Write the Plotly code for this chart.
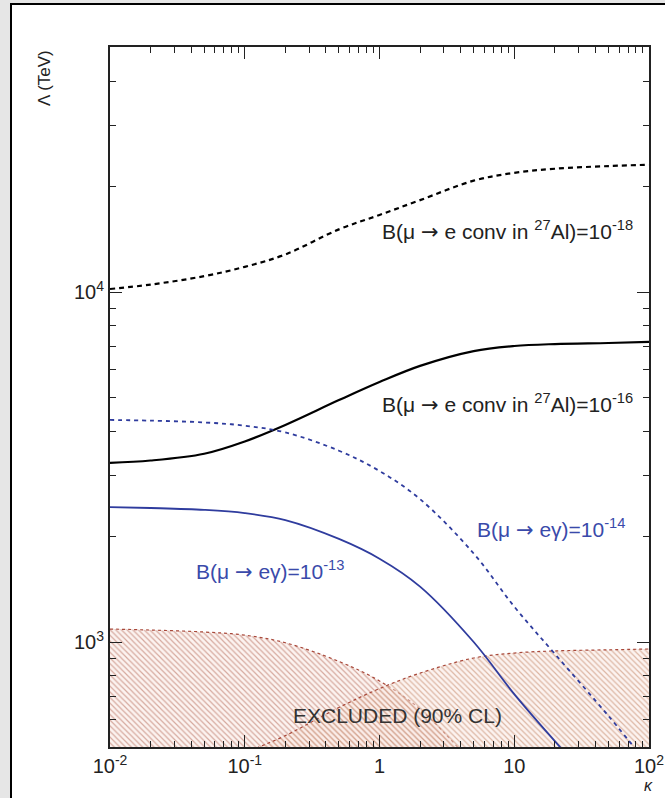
import plotly.graph_objects as go

# ---- data ----
kappa = [0.01, 0.02, 0.05, 0.1, 0.2, 0.5, 1, 2, 5, 10, 20, 50, 100]
conv_al_1e18 = [10200, 10500, 11100, 11800, 12800, 15100, 16600, 18300, 20800, 21900, 22500, 22900, 23100]
conv_al_1e16 = [3250, 3300, 3450, 3740, 4170, 4910, 5530, 6150, 6780, 7010, 7100, 7150, 7200]
meg_1e14 = [4310, 4290, 4240, 4150, 3970, 3520, 3080, 2560, 1790, 1262, 925, 615, 443]
meg_1e13 = [2430, 2415, 2385, 2335, 2230, 1970, 1730, 1440, 1000, 710, 521, 351, 260]

excl_meg_kappa = [0.01, 0.02, 0.05, 0.1, 0.2, 0.5, 1, 2, 5]
excl_meg = [1089, 1082, 1068, 1046, 995, 880, 774, 643, 445]
excl_conv_kappa = [0.05, 0.1, 0.2, 0.5, 1, 2, 5, 10, 20, 50, 100]
excl_conv = [410, 480, 540, 650, 736, 815, 900, 930, 943, 950, 955]

x_tickvals = [0.01, 0.1, 1, 10, 100]
x_ticktext = ["10<sup>-2</sup>", "10<sup>-1</sup>", "1", "10", "10<sup>2</sup>"]
y_tickvals = [1000, 10000]
y_ticktext = ["10<sup>3</sup>", "10<sup>4</sup>"]

FONT = "Liberation Sans, Arial, Helvetica, sans-serif"
BLUE = "#2f3c9e"
HATCH = "#b0604e"
BOUND = "#a8483a"
FLOOR = 100
ARROW = '<span style="font-family:DejaVu Sans">→</span>'

fig = go.Figure()

# excluded regions (hatched)
for kx, ky, col in [(excl_meg_kappa, excl_meg, HATCH), (excl_conv_kappa, excl_conv, "#bd7a58")]:
    fig.add_trace(go.Scatter(x=kx, y=[FLOOR] * len(kx), mode="lines",
                             line=dict(width=0, color="rgba(0,0,0,0)"), hoverinfo="skip",
                             showlegend=False))
    fig.add_trace(go.Scatter(x=kx, y=ky, mode="lines", fill="tonexty",
                             fillcolor="rgba(0,0,0,0)",
                             fillpattern=dict(shape="\\", fgcolor=col, bgcolor="rgba(250,232,226,0.5)",
                                              size=4, solidity=0.3),
                             line=dict(color=BOUND, width=1.2, dash="dot", shape="spline", smoothing=1.0),
                             showlegend=False))

# curves
fig.add_trace(go.Scatter(x=kappa, y=conv_al_1e18, mode="lines",
                         line=dict(color="black", width=2.2, dash="5px,4px", shape="spline"),
                         showlegend=False))
fig.add_trace(go.Scatter(x=kappa, y=conv_al_1e16, mode="lines",
                         line=dict(color="black", width=2.2, shape="spline"),
                         showlegend=False))
fig.add_trace(go.Scatter(x=kappa, y=meg_1e14, mode="lines",
                         line=dict(color=BLUE, width=1.8, dash="4px,4px", shape="spline"),
                         showlegend=False))
fig.add_trace(go.Scatter(x=kappa, y=meg_1e13, mode="lines",
                         line=dict(color=BLUE, width=1.8, shape="spline"),
                         showlegend=False))

L, R, T, B = 110, 16, 47, 51
W, H = 665, 798
PW, PH = W - L - R, H - T - B


def px(x):
    return (x - L) / PW


def py(y):
    return (H - B - y) / PH


ann = []
txtfont = dict(family=FONT, size=21, color="#222222")
bluefont = dict(family=FONT, size=21, color="#3a4aaa")
ann.append(dict(x=px(507), y=py(230), text="B(μ " + ARROW + " e conv in <sup>27</sup>Al)=10<sup>-18</sup>",
                font=txtfont))
ann.append(dict(x=px(507), y=py(403), text="B(μ " + ARROW + " e conv in <sup>27</sup>Al)=10<sup>-16</sup>",
                font=txtfont))
ann.append(dict(x=px(551), y=py(528), text="B(μ " + ARROW + " eγ)=10<sup>-14</sup>", font=bluefont))
ann.append(dict(x=px(270), y=py(570), text="B(μ " + ARROW + " eγ)=10<sup>-13</sup>", font=bluefont))
ann.append(dict(x=px(397), y=py(715), text="EXCLUDED (90% CL)",
                font=dict(family=FONT, size=21, color="#333333")))
ann.append(dict(x=px(45), y=py(78), text="Λ (TeV)", textangle=-90,
                font=dict(family=FONT, size=17, color="#222222")))
ann.append(dict(x=px(648), y=py(775), yanchor="top", text="<i>κ</i>",
                font=dict(family=FONT, size=16, color="#222222")))
for a in ann:
    a.update(xref="paper", yref="paper", showarrow=False)
    a.setdefault("xanchor", "center")
    a.setdefault("yanchor", "middle")

axis_common = dict(
    automargin=False,
    showgrid=False, zeroline=False, showline=True, linecolor="#222222", linewidth=2,
    mirror="allticks", ticks="inside", ticklen=12, tickwidth=1.3, tickcolor="#222222",
    tickfont=dict(family=FONT, size=20, color="#222222"),
    minor=dict(ticks="inside", ticklen=6, tickwidth=1.1, tickcolor="#222222", dtick="D1", showgrid=False),
)

fig.update_layout(
    width=W, height=H,
    margin=dict(l=L, r=R, t=T, b=B, autoexpand=False),
    paper_bgcolor="#e6e6e6",
    plot_bgcolor="white",
    annotations=ann,
    xaxis=dict(type="log", range=[-2, 2], tickvals=x_tickvals, ticktext=x_ticktext, **axis_common),
    yaxis=dict(type="log", range=[2.7, 4.7], tickvals=y_tickvals, ticktext=y_ticktext, **axis_common),
    shapes=[dict(type="rect", xref="paper", yref="paper", layer="below",
                 x0=px(11), x1=px(700), y0=py(820), y1=py(4),
                 fillcolor="white", line=dict(color="black", width=2))],
)

fig.write_html("out.html",
               config={"displayModeBar": False},
               post_script="document.body.style.margin='0px';"
                           "document.body.style.overflow='hidden';"
                           "document.body.style.background='#e6e6e6';")
